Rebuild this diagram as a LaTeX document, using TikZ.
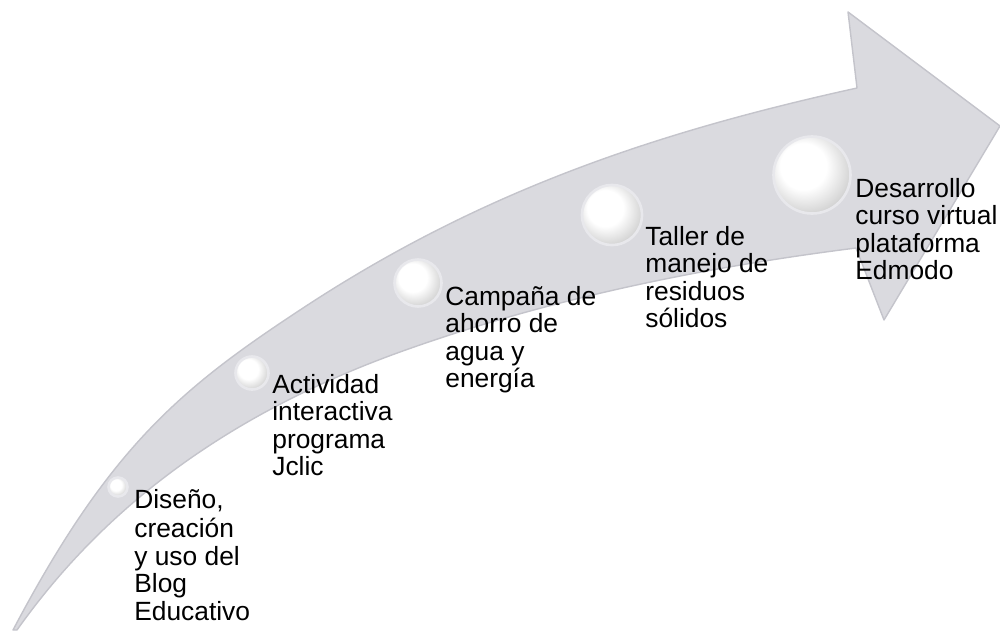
\documentclass[tikz,border=0pt]{standalone}
\usepackage{fontspec}
\setmainfont{Liberation Sans}
\definecolor{grisflecha}{RGB}{218,218,223}
\definecolor{bordeflecha}{RGB}{196,196,203}
\definecolor{aro}{RGB}{232,232,236}
\pgfdeclareradialshading{perla}{\pgfpoint{-8bp}{8bp}}{color(0bp)=(white); color(15bp)=(white); color(27bp)=(gray!30); color(34bp)=(gray!50); color(50bp)=(gray!50)}
\begin{document}
\begin{tikzpicture}[
  x=0.02cm, y=-0.02cm,
  flecha/.style={fill=grisflecha, draw=bordeflecha, line width=0.8pt, line join=round},
  paso/.style={circle, shading=perla, draw=aro, line width=1.5pt, inner sep=0pt},
  etiqueta/.style={anchor=north west, inner sep=0pt, align=left,
    font=\fontsize{15pt}{15.6pt}\selectfont}
]
\useasboundingbox (0,0) rectangle (1000,632);
% cuerpo curvo y punta de la flecha
\path[flecha] (13,630) .. controls (109,448) and (180,389) .. (300,310)
  .. controls (480,191) and (657,132) .. (857,88)
  -- (848,12) -- (1000,126) -- (884,320) -- (856,248)
  .. controls (706,267) and (550,298) .. (400,352)
  .. controls (220,417) and (100,513) .. (17,630)
  -- cycle;
% etapas
\node[paso, minimum size=0.38cm] (p1) at (118,487) {};
\node[paso, minimum size=0.66cm] (p2) at (252,373) {};
\node[paso, minimum size=0.94cm] (p3) at (418,283) {};
\node[paso, minimum size=1.2cm]  (p4) at (612,215) {};
\node[paso, minimum size=1.54cm] (p5) at (812,175) {};
\node[etiqueta] (t1) at (134,489) {\strut Diseño,\\creación\\y uso del\\Blog\\Educativo};
\node[etiqueta] (t2) at (272,374) {\strut Actividad\\interactiva\\programa\\Jclic};
\node[etiqueta] (t3) at (445,286) {\strut Campaña de\\ahorro de\\agua y\\energía};
\node[etiqueta] (t4) at (645,226) {\strut Taller de\\manejo de\\residuos\\sólidos};
\node[etiqueta] (t5) at (855,178) {\strut Desarrollo\\curso virtual\\plataforma\\Edmodo};
\end{tikzpicture}
\end{document}
